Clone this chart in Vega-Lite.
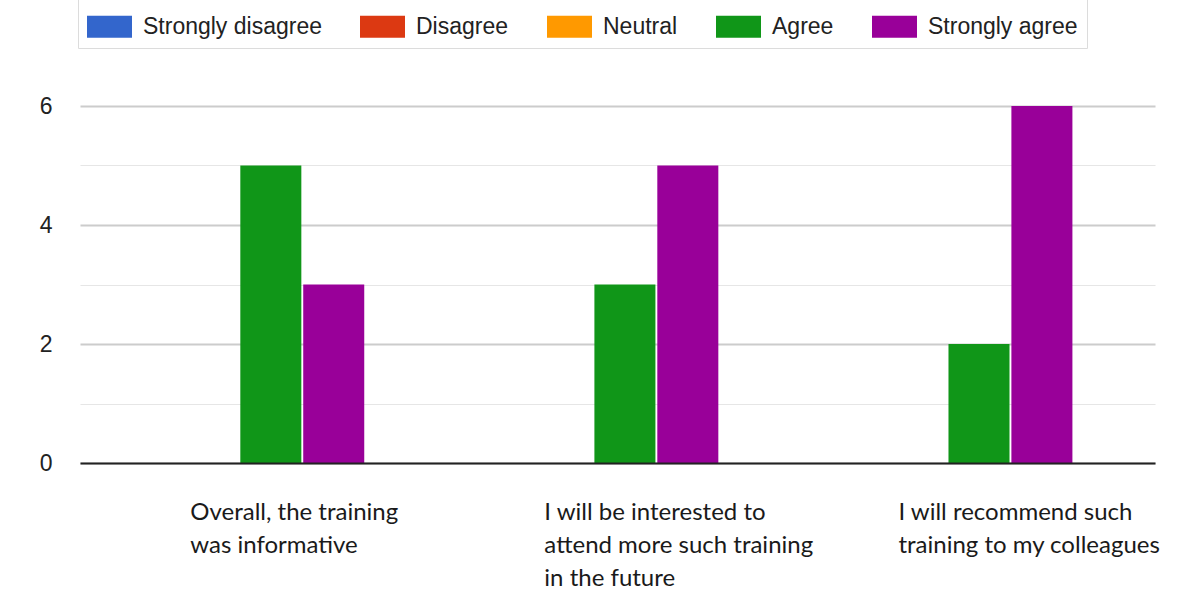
{
  "$schema": "https://vega.github.io/schema/vega-lite/v6.json",
  "width": 1075,
  "height": 357,
  "autosize": {"type": "none"},
  "padding": {"left": 80, "top": 106, "right": 37, "bottom": 128},
  "background": "white",
  "config": {"view": {"stroke": null}},
  "data": {
    "values": [
      {"question": "Overall, the training was informative", "response": "Strongly disagree", "count": 0},
      {"question": "Overall, the training was informative", "response": "Disagree", "count": 0},
      {"question": "Overall, the training was informative", "response": "Neutral", "count": 0},
      {"question": "Overall, the training was informative", "response": "Agree", "count": 5},
      {"question": "Overall, the training was informative", "response": "Strongly agree", "count": 3},
      {"question": "I will be interested to attend more such training in the future", "response": "Strongly disagree", "count": 0},
      {"question": "I will be interested to attend more such training in the future", "response": "Disagree", "count": 0},
      {"question": "I will be interested to attend more such training in the future", "response": "Neutral", "count": 0},
      {"question": "I will be interested to attend more such training in the future", "response": "Agree", "count": 3},
      {"question": "I will be interested to attend more such training in the future", "response": "Strongly agree", "count": 5},
      {"question": "I will recommend such training to my colleagues", "response": "Strongly disagree", "count": 0},
      {"question": "I will recommend such training to my colleagues", "response": "Disagree", "count": 0},
      {"question": "I will recommend such training to my colleagues", "response": "Neutral", "count": 0},
      {"question": "I will recommend such training to my colleagues", "response": "Agree", "count": 2},
      {"question": "I will recommend such training to my colleagues", "response": "Strongly agree", "count": 6}
    ]
  },
  "transform": [{"filter": "datum.count > 0"}],
  "mark": {"type": "bar"},
  "encoding": {
    "x": {
      "field": "question",
      "type": "nominal",
      "sort": null,
      "scale": {"paddingInner": 0.65, "paddingOuter": 0.343, "align": 0.66},
      "axis": {
        "title": null,
        "zindex": 1,
        "domain": true,
        "domainColor": "#222222",
        "domainWidth": 2,
        "ticks": false,
        "tickSize": 0,
        "labelAngle": 0,
        "labelAlign": "left",
        "labelBaseline": "top",
        "labelOffset": -112,
        "labelPadding": 37,
        "labelFont": "Lato",
        "labelFontSize": 24,
        "labelColor": "#1a1a1a",
        "labelLineHeight": 33,
        "labelLimit": 0,
        "labelOverlap": false,
        "labelBound": false,
        "labelExpr": "datum.value == 'Overall, the training was informative' ? ['Overall, the training', 'was informative'] : datum.value == 'I will be interested to attend more such training in the future' ? ['I will be interested to', 'attend more such training', 'in the future'] : ['I will recommend such', 'training to my colleagues']"
      }
    },
    "xOffset": {
      "field": "response",
      "type": "nominal",
      "scale": {"domain": ["Agree", "Strongly agree"], "paddingInner": 0.03, "paddingOuter": 0}
    },
    "y": {
      "field": "count",
      "type": "quantitative",
      "scale": {"domain": [0, 6], "nice": false},
      "axis": {
        "title": null,
        "values": [0, 1, 2, 3, 4, 5, 6],
        "domain": false,
        "ticks": false,
        "tickSize": 0,
        "labelPadding": 28,
        "labelFont": "Liberation Sans",
        "labelFontSize": 23,
        "labelColor": "#222222",
        "labelExpr": "datum.value % 2 === 0 ? datum.label : ''",
        "gridColor": {"condition": {"test": "datum.value % 2 === 1", "value": "#e6e6e6"}, "value": "#cccccc"},
        "gridWidth": {"condition": {"test": "datum.value % 2 === 1", "value": 1.2}, "value": 2}
      }
    },
    "color": {
      "field": "response",
      "type": "nominal",
      "scale": {
        "domain": ["Strongly disagree", "Disagree", "Neutral", "Agree", "Strongly agree"],
        "range": ["#3366cc", "#dc3912", "#ff9900", "#109618", "#990099"]
      },
      "legend": {
        "title": null,
        "orient": "none",
        "legendX": -2,
        "legendY": -111,
        "direction": "horizontal",
        "symbolType": "M-1,-0.49H1V0.49H-1Z",
        "symbolSize": 2025,
        "symbolStrokeWidth": 0,
        "symbolOpacity": 1,
        "labelOffset": 11,
        "columnPadding": 38,
        "labelFont": "Liberation Sans",
        "labelFontSize": 23,
        "labelColor": "#222222",
        "labelLimit": 0,
        "padding": 9,
        "strokeColor": "#dcdcdc",
        "fillColor": "white"
      }
    }
  }
}
